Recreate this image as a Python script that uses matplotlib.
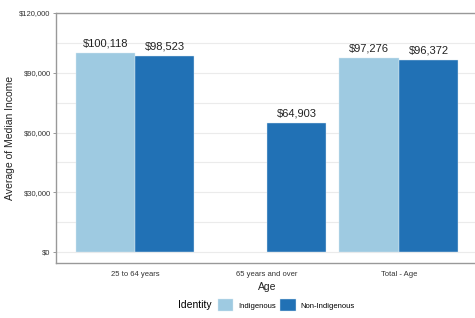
import matplotlib.pyplot as plt
import numpy as np
from matplotlib.ticker import FuncFormatter, MultipleLocator
from matplotlib.offsetbox import HPacker

plt.rcParams['font.family'] = ['Liberation Sans', 'DejaVu Sans']

# data
age_groups = ['25 to 64 years', '65 years and over', 'Total - Age']
indigenous = [100118, np.nan, 97276]
non_indigenous = [98523, 64903, 96372]
series_names = ['Indigenous', 'Non-Indigenous']
colors = ['#9ecae1', '#2171b5']

fig = plt.figure(figsize=(4.75, 3.18), dpi=100)
ax = fig.add_axes([0.118, 0.173, 0.888, 0.786])

x = np.arange(len(age_groups))
w = 0.45
bars = []
for i, (vals, name) in enumerate(zip([indigenous, non_indigenous], series_names)):
    b = ax.bar(x + (i - 0.5) * w, vals, width=w, color=colors[i], label=name,
               edgecolor='#d8e8f2', linewidth=0.3, zorder=2)
    bars.append(b)
    for xi, v in zip(x + (i - 0.5) * w, vals):
        if not np.isnan(v):
            ax.text(xi, v + 2200, '${:,.0f}'.format(v), ha='center', va='bottom',
                    fontsize=8, color='#222222')

ax.set_xlim(-0.6, 2.6)
ax.set_ylim(-5500, 120000)
ax.set_xticks(x)
ax.set_xticklabels(age_groups, fontsize=5.5, color='#333333')
ax.yaxis.set_major_locator(MultipleLocator(30000))
ax.yaxis.set_minor_locator(MultipleLocator(15000))
ax.yaxis.set_major_formatter(FuncFormatter(lambda v, p: '${:,.0f}'.format(v)))
ax.tick_params(axis='y', labelsize=5.5, labelcolor='#333333', length=2.5,
               width=0.6, color='#888888', pad=1.5)
ax.tick_params(axis='y', which='minor', length=0)
ax.tick_params(axis='x', length=0, pad=6)
ax.grid(axis='y', which='both', color='#ebebeb', linewidth=0.8, zorder=0)
ax.set_axisbelow(True)
for s in ['left', 'top', 'bottom']:
    ax.spines[s].set_color('#999999')
    ax.spines[s].set_linewidth(1.0)
ax.spines['right'].set_visible(False)

ax.set_ylabel('Average of Median Income', fontsize=7.5, color='#222222', labelpad=3)
ax.set_xlabel('Age', fontsize=7.5, color='#222222', labelpad=3)

leg = fig.legend(handles=bars, labels=series_names, loc='lower center',
                 bbox_to_anchor=(0.56, 0.0), ncol=2, frameon=False,
                 fontsize=5.5, title='Identity', title_fontsize=7.5,
                 handlelength=2.0, handleheight=2.0, handletextpad=0.6,
                 columnspacing=0.6)
# put title on the left of the entries
title_box = leg._legend_title_box
handle_box = leg._legend_handle_box
leg._legend_box._children = [HPacker(pad=0, sep=5, align='center',
                                     children=[title_box, handle_box])]

fig.savefig('out.png', dpi=100)
